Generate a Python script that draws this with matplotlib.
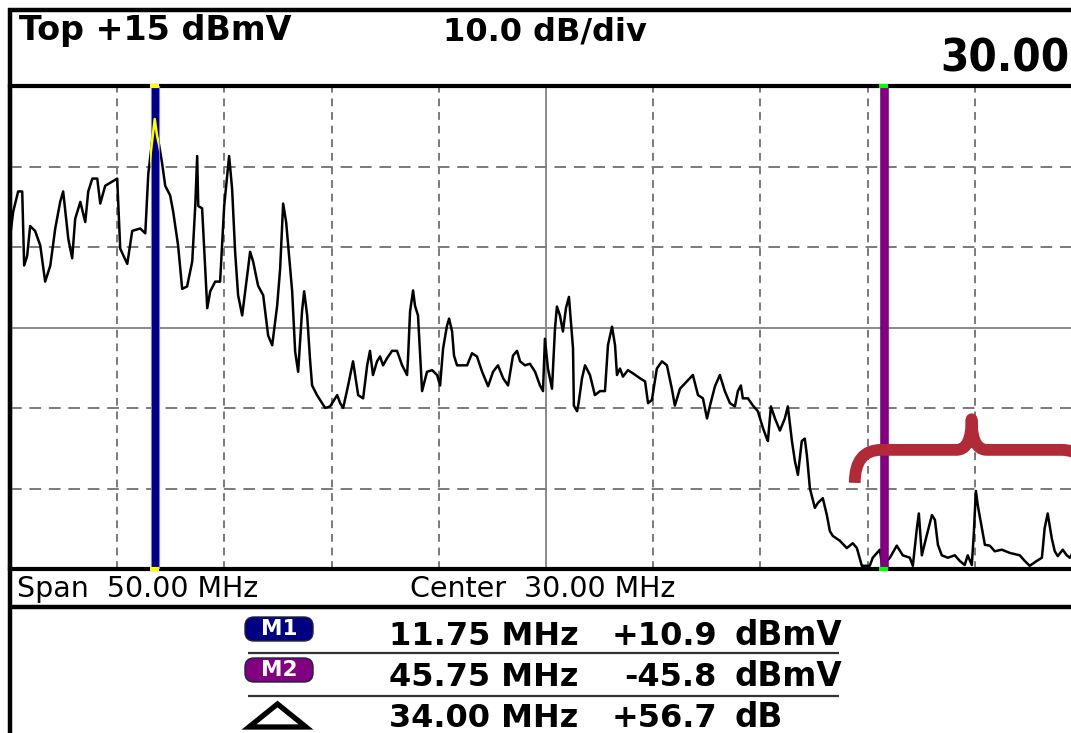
import matplotlib
matplotlib.use("Agg")
import matplotlib.pyplot as plt
from matplotlib.patches import Rectangle, FancyBboxPatch, Polygon, PathPatch
from matplotlib.path import Path
from matplotlib import font_manager
from matplotlib.font_manager import FontProperties

# analyzer settings
top_level = 15
db_per_div = 10.0
n_div_y = 6
span_mhz = 50.0
center_mhz = 30.0

# markers
m1_freq, m1_level = 11.75, 10.9
m2_freq, m2_level = 45.75, -45.8

# trace (MHz, dBmV)
freq_mhz = [
    5.01, 5.15, 5.38, 5.57, 5.66, 5.80, 5.94, 6.17, 6.41, 6.64, 6.88, 7.11, 7.34, 7.48,
    7.72, 7.90, 8.04, 8.28, 8.51, 8.65, 8.84, 9.07, 9.21, 9.44, 10.00, 10.14, 10.47, 10.70,
    11.07, 11.31, 11.45, 11.75, 11.86, 11.96, 12.10, 12.24, 12.47, 12.61, 12.84, 13.03,
    13.26, 13.50, 13.64, 13.73, 13.78, 13.96, 14.20, 14.34, 14.57, 14.80, 14.99, 15.13,
    15.22, 15.36, 15.50, 15.64, 15.83, 16.06, 16.20, 16.34, 16.57, 16.81, 17.04, 17.23,
    17.46, 17.60, 17.74, 17.88, 18.16, 18.30, 18.44, 18.62, 18.72, 18.86, 19.00, 19.09,
    19.32, 19.70, 19.93, 20.26, 20.40, 20.54, 20.77, 21.00, 21.24, 21.47, 21.66, 21.79,
    21.93, 22.12, 22.26, 22.40, 22.59, 22.82, 23.05, 23.29, 23.52, 23.57, 23.66, 23.80,
    23.89, 24.03, 24.22, 24.45, 24.69, 24.92, 25.06, 25.20, 25.38, 25.48, 25.62, 25.71,
    25.85, 26.32, 26.55, 26.78, 27.02, 27.30, 27.53, 27.76, 28.00, 28.23, 28.46, 28.65,
    28.79, 29.02, 29.25, 29.49, 29.72, 29.86, 29.95, 30.09, 30.28, 30.42, 30.51, 30.65,
    30.79, 30.93, 31.07, 31.26, 31.30, 31.45, 31.52, 31.68, 31.82, 32.05, 32.28, 32.52,
    32.75, 32.89, 33.08, 33.22, 33.31, 33.45, 33.59, 33.82, 34.06, 34.38, 34.62, 34.76,
    34.94, 35.17, 35.41, 35.64, 35.87, 36.01, 36.25, 36.57, 36.85, 37.09, 37.32, 37.51,
    37.65, 37.88, 38.11, 38.34, 38.58, 38.81, 38.95, 39.09, 39.18, 39.42, 39.65, 39.88,
    40.12, 40.30, 40.35, 40.49, 40.68, 40.91, 41.14, 41.28, 41.47, 41.61, 41.75, 41.93,
    42.07, 42.17, 42.31, 42.54, 42.68, 42.91, 43.10, 43.24, 43.38, 43.71, 44.03, 44.31,
    44.50, 44.73, 45.10, 45.24, 45.57, 45.75, 45.90, 46.04, 46.36, 46.64, 46.97, 47.11,
    47.30, 47.39, 47.53, 47.76, 48.00, 48.14, 48.28, 48.46, 48.74, 49.07, 49.30, 49.53,
    49.67, 49.86, 49.95, 50.05, 50.14, 50.33, 50.47, 50.70, 50.93, 51.26, 51.63, 52.10,
    52.33, 52.56, 52.89, 53.13, 53.26, 53.40, 53.59, 53.73, 53.87, 54.10, 54.29, 54.43,
    54.62,
]
level_dbmv = [
    -3.6, -0.6, 1.9, 1.9, -7.3, -6.1, -2.4, -3.0, -4.8, -9.3, -7.3, -2.7, 0.6, 1.9,
    -4.0, -6.4, -1.5, 0.6, -1.9, 1.9, 3.5, 3.5, 0.4, 2.6, 3.5, -5.2, -7.1, -3.0,
    -2.7, -3.3, 4.1, 10.9, 8.8, 7.6, 5.3, 2.6, 1.4, -0.6, -4.8, -10.2,
    -9.9, -6.8, 0.1, 6.3, 0.1, -0.2, -12.6, -10.5, -9.3, -9.3, 0.1, 3.8,
    6.3, 2.2, -5.6, -11.0, -13.5, -8.6, -5.6, -6.8, -9.8, -11.0, -16.0, -17.2,
    -12.3, -7.7, 0.4, -1.9, -10.5, -18.0, -20.5, -13.0, -10.5, -13.5, -19.2, -22.2,
    -23.4, -25.0, -24.8, -23.4, -24.4, -25.0, -22.2, -19.2, -23.4, -23.8, -19.7, -17.9,
    -20.9, -19.2, -18.6, -19.7, -18.8, -17.9, -17.9, -19.7, -20.9, -18.5, -13.0, -10.4,
    -12.3, -13.5, -22.9, -20.5, -20.3, -20.9, -22.2, -17.6, -14.8, -13.9, -15.5, -18.5,
    -19.7, -19.7, -18.2, -18.6, -20.5, -22.3, -20.5, -19.7, -21.3, -22.2, -18.5, -17.9,
    -19.2, -19.7, -19.5, -20.5, -22.2, -22.9, -16.4, -20.1, -22.6, -15.1, -12.4, -13.5,
    -15.5, -12.6, -11.2, -17.6, -24.7, -25.4, -24.4, -21.3, -19.7, -20.9, -23.4, -22.9,
    -22.9, -17.2, -14.9, -17.2, -20.9, -20.1, -21.1, -20.3, -20.7, -21.3, -21.7, -24.4,
    -24.0, -20.1, -19.2, -19.7, -22.6, -24.7, -22.6, -21.7, -20.9, -23.4, -23.8, -26.3,
    -24.7, -22.3, -20.9, -22.9, -24.4, -24.8, -22.9, -22.2, -23.8, -23.8, -24.7, -25.4,
    -27.5, -28.8, -29.1, -24.8, -26.3, -27.8, -26.3, -24.8, -29.1, -31.6, -33.3, -29.1,
    -28.8, -30.9, -35.0, -37.4, -36.8, -36.2, -38.3, -40.3, -40.9, -41.5, -42.4, -41.8,
    -42.4, -44.6, -44.6, -43.6, -42.6, -45.8, -44.0, -43.6, -42.1, -43.3, -43.6, -44.6,
    -39.9, -38.1, -43.3, -40.8, -38.3, -38.9, -42.0, -43.3, -43.6, -43.3, -44.0, -44.5,
    -43.3, -44.5, -40.8, -35.3, -37.1, -39.9, -42.0, -42.1, -42.8, -42.6, -43.0, -43.3,
    -44.0, -44.6, -44.0, -43.6, -39.9, -38.1, -41.2, -42.8, -43.4, -42.6, -43.3, -43.6,
    -42.8,
]

# bracket over the upper band (MHz / dBmV)
brace_left, brace_right = 44.4, 55.3
brace_end, brace_bar, brace_tip = -34.3, -30.2, -26.4

W, H = 1071, 733
fig = plt.figure(figsize=(W / 100, H / 100), dpi=100)
fig.patch.set_facecolor("white")

# screen frame drawn in pixel units
ov = fig.add_axes([0, 0, 1, 1], zorder=0)
ov.set_xlim(0, W)
ov.set_ylim(H, 0)
ov.axis("off")

bold = dict(family="DejaVu Sans", fontweight="bold", color="black")
ov.plot([8, W], [10, 10], color="black", lw=3.2, solid_capstyle="butt")
ov.plot([10, 10], [8, H], color="black", lw=3.2, solid_capstyle="butt")
ov.plot([10, W], [607, 607], color="black", lw=3.2, solid_capstyle="butt")

ov.text(19, 40, "Top %+d dBmV" % top_level, fontsize=24, va="baseline", **bold)
ov.text(443, 40, "%.1f dB/div" % db_per_div, fontsize=23, va="baseline", **bold)

# big centre readout: prefer a narrow bold face, then fit it to the screen edge
narrow = None
for fe in font_manager.fontManager.ttflist:
    nm = fe.name.lower()
    is_narrow = ("narrow" in nm or "condensed" in nm
                 or str(fe.stretch) in ("condensed", "semi-condensed", "extra-condensed"))
    is_bold = str(fe.weight) in ("bold", "700", "heavy", "800", "black", "900")
    if is_narrow and is_bold and not nm.startswith("noto sans cjk"):
        narrow = fe
        break
if narrow is not None:
    bigprop = FontProperties(fname=narrow.fname, size=47)
else:
    bigprop = FontProperties(family="DejaVu Sans", weight="bold", size=47)
big = ov.text(940, 72, "%.2f" % center_mhz, va="baseline", color="black",
              fontproperties=bigprop)
fig.canvas.draw()
bw = big.get_window_extent().width
if bw > 129:
    big.set_fontsize(47 * 129 / bw)

reg = dict(family="DejaVu Sans", fontsize=20.5, color="black", va="baseline")
ov.text(17, 597, "Span  %.2f MHz" % span_mhz, **reg)
ov.text(410, 597, "Center  %.2f MHz" % center_mhz, **reg)

# marker readout table
rows = [
    ("M1", "#000080", "%.2f MHz" % m1_freq, "%+.1f" % m1_level, "dBmV"),
    ("M2", "#800080", "%.2f MHz" % m2_freq, "%+.1f" % m2_level, "dBmV"),
    ("D", None, "%.2f MHz" % (m2_freq - m1_freq), "%+.1f" % (m1_level - m2_level), "dB"),
]
baselines = [645, 686, 727]
for (tag, col, ftxt, vtxt, unit), yb in zip(rows, baselines):
    ov.text(389, yb, ftxt, fontsize=23, va="baseline", **bold)
    ov.text(717, yb, vtxt, fontsize=23, va="baseline", ha="right", **bold)
    ov.text(734, yb, unit, fontsize=23.5, va="baseline", **bold)
    if col is not None:
        ov.add_patch(FancyBboxPatch((248, yb - 25), 62, 18,
                                    boxstyle="round,pad=3,rounding_size=9",
                                    facecolor=col, edgecolor="#202040", lw=1))
        ov.text(279, yb - 16, tag, ha="center", va="center", fontsize=15.5,
                family="DejaVu Sans", fontweight="bold", color="white")
    else:
        ov.add_patch(Polygon([(249, yb), (306, yb), (277.5, yb - 23)], closed=True,
                             facecolor="white", edgecolor="black", lw=3.8,
                             joinstyle="miter"))
for ys in (653, 696):
    ov.plot([248, 839], [ys, ys], color="#333333", lw=1.6, solid_capstyle="butt")

# spectrum graticule
top_px, bot_px = 86, 569
ax = fig.add_axes([10 / W, 1 - bot_px / H, 1072 / W, (bot_px - top_px) / H], zorder=1)
ax.patch.set_alpha(0)
f_lo, f_hi = center_mhz - span_mhz / 2, center_mhz + span_mhz / 2
y_lo = top_level - n_div_y * db_per_div
ax.set_xlim(f_lo, f_hi)
ax.set_ylim(y_lo, top_level)
ax.set_xticks([])
ax.set_yticks([])
for side in ("top", "bottom", "left"):
    ax.spines[side].set_linewidth(3.0)
ax.spines["right"].set_visible(False)

for k in range(1, 10):
    f = f_lo + k * span_mhz / 10
    if abs(f - center_mhz) < 1e-6:
        ax.axvline(f, color="#8a8a8a", lw=1.4, zorder=1)
    else:
        ax.axvline(f, color="#7a7a7a", lw=1.4, ls=(0, (4, 3)), zorder=1)
for k in range(1, n_div_y):
    lv = top_level - k * db_per_div
    if k == n_div_y // 2:
        ax.axhline(lv, color="#8a8a8a", lw=1.4, zorder=1)
    else:
        ax.axhline(lv, color="#7a7a7a", lw=1.4, ls=(0, (6, 4)), zorder=1)

ax.plot(freq_mhz, level_dbmv, color="black", lw=1.8, zorder=3)

# marker bars
ax.axvline(m1_freq, color="#8c8cff", lw=6.6, zorder=4)
ax.axvline(m1_freq, color="#000080", lw=5.2, zorder=4.1)
ax.axvline(m2_freq, color="#800080", lw=6.2, zorder=4)
half = 0.22
hl, = ax.plot(freq_mhz, level_dbmv, color="#ffff00", lw=1.8, zorder=5)
hl.set_clip_path(Rectangle((m1_freq - half, y_lo), 2 * half, top_level - y_lo,
                           transform=ax.transData))
for mf, mc in ((m1_freq, "#ffff00"), (m2_freq, "#00ff00")):
    for lv in (top_level, y_lo):
        ax.plot([mf - half, mf + half], [lv, lv], color=mc, lw=3.0,
                solid_capstyle="butt", clip_on=False, zorder=6)

# red bracket
bmid = (brace_left + brace_right) / 2
r1, r2 = 1.25, 0.7
verts = [
    (brace_left, brace_end), (brace_left, brace_bar), (brace_left + r1, brace_bar),
    (bmid - r2, brace_bar), (bmid, brace_bar), (bmid, brace_tip),
    (bmid, brace_bar), (bmid + r2, brace_bar),
    (brace_right - r1, brace_bar), (brace_right, brace_bar), (brace_right, brace_end),
]
codes = [Path.MOVETO, Path.CURVE3, Path.CURVE3, Path.LINETO, Path.CURVE3, Path.CURVE3,
         Path.CURVE3, Path.CURVE3, Path.LINETO, Path.CURVE3, Path.CURVE3]
ax.add_patch(PathPatch(Path(verts, codes), facecolor="none", edgecolor="#b12a38",
                       lw=8.5, capstyle="butt", joinstyle="round", clip_on=False,
                       zorder=7))

fig.savefig("out.png", dpi=100, facecolor="white")
